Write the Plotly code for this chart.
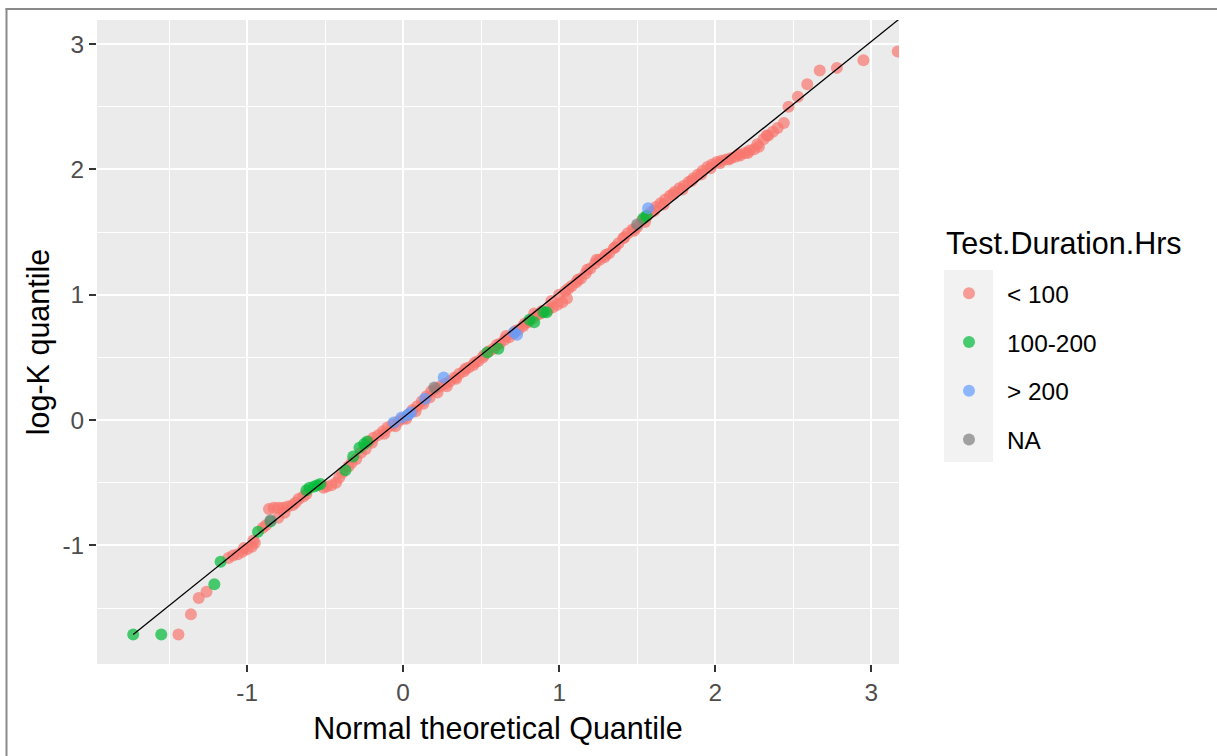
import plotly.graph_objects as go

# ---------------- data ----------------
red_x = [-1.44, -1.36, -1.31, -1.26,
         -1.12, -1.09, -1.06, -1.03, -1.02, -1.00, -0.97, -0.96, -0.95, -0.90, -0.88,
         -0.86, -0.83, -0.80, -0.77, -0.74, -0.71, -0.69, -0.80, -0.76,
         -0.67, -0.64, -0.62,
         -0.51, -0.49, -0.46, -0.43, -0.41, -0.39,
         -0.35, -0.33, -0.30, -0.27, -0.24,
         -0.22, -0.20, -0.19, -0.16, -0.13, -0.12, -0.10, -0.07, -0.05, -0.03,
         0.00, 0.02, 0.03, 0.06, 0.08, 0.09, 0.12, 0.13, 0.15, 0.17, 0.18, 0.21,
         0.22, 0.24, 0.27, 0.28, 0.30, 0.33, 0.34,
         0.36, 0.39, 0.40, 0.42, 0.45, 0.46, 0.48, 0.51, 0.52,
         0.55, 0.58, 0.60, 0.62, 0.65, 0.66, 0.68, 0.71, 0.72, 0.74, 0.77, 0.78,
         0.80, 0.83, 0.84, 0.86, 0.88, 0.89,
         0.93, 0.96, 0.99, 1.02, 1.05,
         0.95, 1.00, 1.04, 1.06, 1.08, 1.11, 1.12, 1.14, 1.17, 1.18, 1.20, 1.23,
         1.24, 1.26, 1.29, 1.30, 1.32,
         1.35, 1.36, 1.38, 1.41, 1.42, 1.44, 1.47, 1.48, 1.50,
         1.53, 1.55, 1.56, 1.59, 1.61, 1.62, 1.65, 1.67, 1.68, 1.71, 1.73, 1.74,
         1.77, 1.79, 1.80, 1.83, 1.85, 1.86,
         1.89, 1.91, 1.92, 1.95, 1.97, 1.98, 2.01, 2.03,
         2.04, 2.07, 2.09, 2.10, 2.13, 2.15, 2.16, 2.19, 2.21, 2.22, 2.25, 2.27, 2.28,
         2.31, 2.33, 2.34, 2.37, 2.40, 2.44,
         2.47, 2.53, 2.59, 2.67, 2.78, 2.95, 3.17]
red_y = [-1.71, -1.55, -1.42, -1.37,
         -1.10, -1.08, -1.07, -1.05, -1.02, -1.03, -1.01, -0.96, -0.98, -0.86, -0.84,
         -0.71, -0.70, -0.70, -0.70, -0.69, -0.68, -0.66, -0.78, -0.74,
         -0.63, -0.61, -0.59,
         -0.54, -0.53, -0.52, -0.50, -0.46, -0.42,
         -0.37, -0.34, -0.31, -0.26, -0.23,
         -0.17, -0.18, -0.14, -0.12, -0.09, -0.11, -0.06, -0.04, -0.05, -0.01,
         0.01, 0.01, 0.04, 0.08, 0.07, 0.11, 0.15, 0.13, 0.19, 0.18, 0.23, 0.25,
         0.22, 0.27, 0.29, 0.27, 0.31, 0.34, 0.33,
         0.37, 0.39, 0.41, 0.42, 0.44, 0.46, 0.47, 0.50, 0.52,
         0.55, 0.57, 0.60, 0.61, 0.64, 0.67, 0.66, 0.69, 0.71, 0.72, 0.75, 0.77,
         0.78, 0.81, 0.85, 0.84, 0.85, 0.87,
         0.88, 0.90, 0.92, 0.94, 0.97,
         0.95, 1.00, 1.03, 1.05, 1.07, 1.10, 1.12, 1.13, 1.17, 1.20, 1.21, 1.25,
         1.28, 1.28, 1.30, 1.32, 1.33,
         1.37, 1.38, 1.41, 1.45, 1.46, 1.49, 1.52, 1.51, 1.54,
         1.59, 1.58, 1.62, 1.66, 1.67, 1.70, 1.73, 1.72, 1.76, 1.79, 1.80, 1.82,
         1.85, 1.84, 1.87, 1.90, 1.91, 1.93,
         1.96, 1.96, 1.99, 2.02, 2.01, 2.04, 2.06, 2.05,
         2.07, 2.08, 2.08, 2.09, 2.10, 2.12, 2.11, 2.13, 2.13, 2.15, 2.16, 2.20, 2.18,
         2.24, 2.27, 2.27, 2.30, 2.33, 2.37,
         2.50, 2.58, 2.68, 2.79, 2.81, 2.87, 2.94]

green_x = [-1.73, -1.55, -1.21, -1.17, -0.93, -0.85, -0.62, -0.60, -0.57, -0.55,
           -0.53, -0.37, -0.32, -0.28, -0.25, -0.23, 0.54, 0.61, 0.81, 0.84,
           0.90, 0.92, 1.54, 1.56]
green_y = [-1.71, -1.71, -1.31, -1.13, -0.89, -0.81, -0.56, -0.54, -0.53, -0.52,
           -0.51, -0.40, -0.29, -0.22, -0.19, -0.17, 0.54, 0.57, 0.80, 0.78,
           0.86, 0.86, 1.61, 1.63]

blue_x = [-0.06, -0.01, 0.03, 0.05, 0.14, 0.26, 0.71, 0.73, 1.57]
blue_y = [-0.02, 0.02, 0.04, 0.06, 0.17, 0.34, 0.70, 0.68, 1.69]

na_x = [-0.85, 0.20, 1.50]
na_y = [-0.80, 0.26, 1.56]

line_x = [-1.73, 3.25]
line_y = [-1.71, 3.27]

group_names = ["< 100", "100-200", "> 200", "NA"]
group_colors = ["#F8766D", "#00BA38", "#619CFF", "#7F7F7F"]
legend_title = "Test.Duration.Hrs"

x_ticks = [-1, 0, 1, 2, 3]
x_ticktext = ["-1", "0", "1", "2", "3"]
y_ticks = [-1, 0, 1, 2, 3]
y_ticktext = ["-1", "0", "1", "2", "3"]
x_minor = [-1.5, -0.5, 0.5, 1.5, 2.5]
y_minor = [-1.5, -0.5, 0.5, 1.5, 2.5]
x_range = [-1.962, 3.178]
y_range = [-1.946, 3.192]

# ---------------- figure ----------------
FONT = "Liberation Sans, Arial, sans-serif"
fig = go.Figure()

series = [(red_x, red_y), (green_x, green_y), (blue_x, blue_y), (na_x, na_y)]
for (xs, ys), name, col in zip(series, group_names, group_colors):
    fig.add_trace(go.Scatter(
        x=xs, y=ys, mode="markers", name=name, legendgroup=name,
        marker=dict(color=col, size=12, opacity=0.7, line=dict(width=0)),
    ))

fig.add_trace(go.Scatter(
    x=line_x, y=line_y, mode="lines", showlegend=False,
    line=dict(color="black", width=1.3),
))

W, H = 1217, 756
ML, MR, MT, MB = 97, 318, 20, 92
pw, ph = W - ML - MR, H - MT - MB


def px(x):
    return (x - ML) / pw


def py(y):
    return (H - MB - y) / ph


axis_common = dict(
    showgrid=True, gridcolor="white", gridwidth=2,
    zeroline=False, showline=False,
    ticks="outside", ticklen=7, tickwidth=1.5, tickcolor="#333333",
    tickfont=dict(family=FONT, size=24.4, color="#4D4D4D"),
    tickmode="array",
)

fig.update_xaxes(
    range=x_range, tickvals=x_ticks, ticktext=x_ticktext,
    minor=dict(tickmode="array", tickvals=x_minor, showgrid=True,
               gridcolor="white", gridwidth=1, ticks=""),
    title=dict(text="Normal theoretical Quantile",
               font=dict(family=FONT, size=30.5, color="black"), standoff=12),
    **axis_common,
)
fig.update_yaxes(
    range=y_range, tickvals=y_ticks, ticktext=y_ticktext,
    minor=dict(tickmode="array", tickvals=y_minor, showgrid=True,
               gridcolor="white", gridwidth=1, ticks=""),
    title=dict(text="log-K quantile",
               font=dict(family=FONT, size=30.5, color="black"), standoff=3),
    **axis_common,
)

fig.update_layout(
    width=W, height=H, autosize=False,
    margin=dict(l=ML, r=MR, t=MT, b=MB, autoexpand=False),
    plot_bgcolor="#EBEBEB", paper_bgcolor="white",
    font=dict(family=FONT),
    legend=dict(
        font=dict(family=FONT, size=24.4, color="black"),
        x=px(931), y=py(271), xanchor="left", yanchor="top",
        bgcolor="rgba(0,0,0,0)", tracegroupgap=14, itemsizing="constant",
        itemwidth=66,
    ),
    annotations=[
        dict(text=legend_title, xref="paper", yref="paper",
             x=px(944), y=py(243), xanchor="left", yanchor="middle",
             showarrow=False, font=dict(family=FONT, size=30.5, color="black")),
    ],
    shapes=[
        dict(type="rect", xref="paper", yref="paper",
             x0=px(944), x1=px(993), y0=py(462), y1=py(270),
             fillcolor="#F2F2F2", line=dict(width=0), layer="below"),
        dict(type="line", xref="paper", yref="paper",
             x0=px(6.5), x1=px(6.5), y0=py(8.5), y1=py(H + 5),
             line=dict(color="#8A8A8A", width=2)),
        dict(type="line", xref="paper", yref="paper",
             x0=px(5.5), x1=px(W + 5), y0=py(9), y1=py(9),
             line=dict(color="#8A8A8A", width=2)),
    ],
)

fig.write_html("out.html")
